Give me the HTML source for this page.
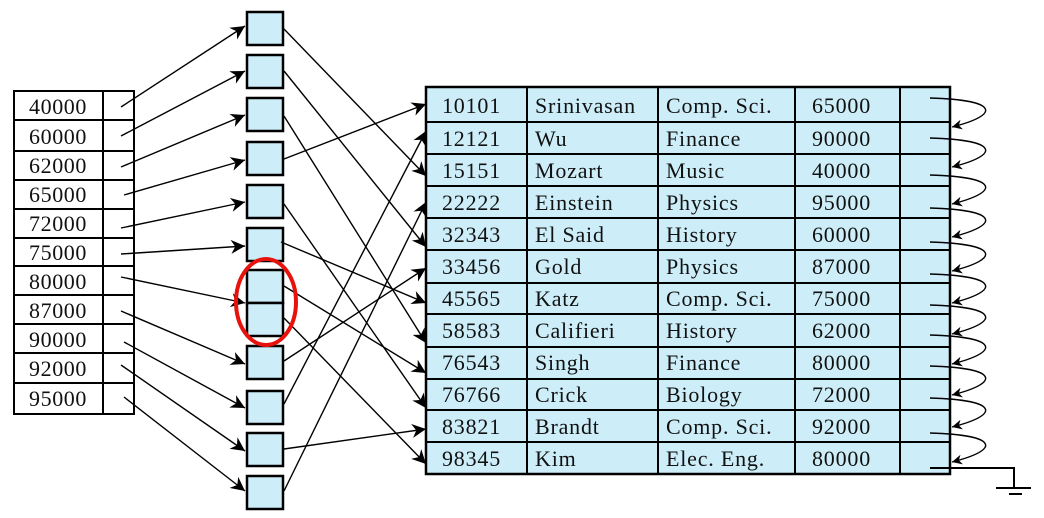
<!DOCTYPE html>
<html><head><meta charset="utf-8"><style>
html,body{margin:0;padding:0;background:#fff;}
svg{display:block;}
text{font-family:"Liberation Serif",serif;fill:#111;}
</style></head><body>
<svg width="1044" height="518" viewBox="0 0 1044 518" xmlns="http://www.w3.org/2000/svg">
<defs>
<marker id="a" viewBox="0 0 10 10" refX="10" refY="5" markerWidth="10" markerHeight="10" markerUnits="userSpaceOnUse" orient="auto">
<path d="M0,0 L10,5 L0,10 L3,5 z" fill="#000"/>
</marker>
<marker id="b" viewBox="0 0 10 10" refX="10" refY="5" markerWidth="14" markerHeight="14" markerUnits="userSpaceOnUse" orient="auto">
<path d="M0,0 L10,5 L0,10 L3,5 z" fill="#000"/>
</marker>
</defs>

<g stroke="#000" stroke-width="2" fill="#fff">
<rect x="14" y="91" width="120" height="323"/>
<line x1="103" y1="91" x2="103" y2="414"/>
<line x1="14" y1="120" x2="134" y2="120"/>
<line x1="14" y1="151" x2="134" y2="151"/>
<line x1="14" y1="180" x2="134" y2="180"/>
<line x1="14" y1="209" x2="134" y2="209"/>
<line x1="14" y1="238" x2="134" y2="238"/>
<line x1="14" y1="266" x2="134" y2="266"/>
<line x1="14" y1="295" x2="134" y2="295"/>
<line x1="14" y1="324" x2="134" y2="324"/>
<line x1="14" y1="353" x2="134" y2="353"/>
<line x1="14" y1="383" x2="134" y2="383"/>
</g>
<g font-size="22" letter-spacing="0.6">
<text x="29" y="114">40000</text>
<text x="29" y="144">60000</text>
<text x="29" y="173">62000</text>
<text x="29" y="202">65000</text>
<text x="29" y="231">72000</text>
<text x="29" y="260">75000</text>
<text x="29" y="289">80000</text>
<text x="29" y="318">87000</text>
<text x="29" y="347">90000</text>
<text x="29" y="376">92000</text>
<text x="29" y="406">95000</text>
</g>

<g stroke="#000" stroke-width="2.5" fill="#cdeef9">
<rect x="247" y="12" width="36" height="33"/>
<rect x="247" y="55" width="36" height="33"/>
<rect x="247" y="98" width="36" height="33"/>
<rect x="247" y="142" width="36" height="33"/>
<rect x="247" y="185" width="36" height="33"/>
<rect x="247" y="228" width="36" height="33"/>
<rect x="247" y="270" width="36" height="33"/>
<rect x="247" y="303" width="36" height="33"/>
<rect x="247" y="346" width="36" height="33"/>
<rect x="247" y="391" width="36" height="33"/>
<rect x="247" y="433" width="36" height="33"/>
<rect x="247" y="476" width="36" height="33"/>
</g>

<g stroke="#000" stroke-width="1.4" fill="none" marker-end="url(#b)">
<line x1="121" y1="107" x2="245" y2="26"/>
<line x1="121" y1="136" x2="245" y2="71"/>
<line x1="121" y1="167" x2="245" y2="115"/>
<line x1="124" y1="195" x2="245" y2="160"/>
<line x1="121" y1="228" x2="245" y2="202"/>
<line x1="121" y1="254" x2="245" y2="246"/>
<line x1="121" y1="277" x2="245" y2="303"/>
<line x1="121" y1="311" x2="245" y2="364"/>
<line x1="124" y1="342" x2="245" y2="408"/>
<line x1="121" y1="365" x2="245" y2="451"/>
<line x1="124" y1="397" x2="245" y2="491"/>
</g>

<rect x="426" y="87" width="524" height="387" fill="#cdeef9" stroke="#000" stroke-width="2.5"/>
<g stroke="#000" stroke-width="2">
<line x1="527" y1="87" x2="527" y2="474"/>
<line x1="658" y1="87" x2="658" y2="474"/>
<line x1="795" y1="87" x2="795" y2="474"/>
<line x1="900" y1="87" x2="900" y2="474"/>
<line x1="426" y1="122" x2="950" y2="122"/>
<line x1="426" y1="154" x2="950" y2="154"/>
<line x1="426" y1="186" x2="950" y2="186"/>
<line x1="426" y1="218" x2="950" y2="218"/>
<line x1="426" y1="250" x2="950" y2="250"/>
<line x1="426" y1="283" x2="950" y2="283"/>
<line x1="426" y1="314" x2="950" y2="314"/>
<line x1="426" y1="347" x2="950" y2="347"/>
<line x1="426" y1="379" x2="950" y2="379"/>
<line x1="426" y1="410" x2="950" y2="410"/>
<line x1="426" y1="442" x2="950" y2="442"/>
</g>
<g font-size="22" letter-spacing="0.8">
<text x="442" y="113">10101</text><text x="535" y="113">Srinivasan</text><text x="666" y="113">Comp. Sci.</text><text x="812" y="113">65000</text>
<text x="442" y="146">12121</text><text x="535" y="146">Wu</text><text x="666" y="146">Finance</text><text x="812" y="146">90000</text>
<text x="442" y="178">15151</text><text x="535" y="178">Mozart</text><text x="666" y="178">Music</text><text x="812" y="178">40000</text>
<text x="442" y="210">22222</text><text x="535" y="210">Einstein</text><text x="666" y="210">Physics</text><text x="812" y="210">95000</text>
<text x="442" y="242">32343</text><text x="535" y="242">El Said</text><text x="666" y="242">History</text><text x="812" y="242">60000</text>
<text x="442" y="274">33456</text><text x="535" y="274">Gold</text><text x="666" y="274">Physics</text><text x="812" y="274">87000</text>
<text x="442" y="306">45565</text><text x="535" y="306">Katz</text><text x="666" y="306">Comp. Sci.</text><text x="812" y="306">75000</text>
<text x="442" y="338">58583</text><text x="535" y="338">Califieri</text><text x="666" y="338">History</text><text x="812" y="338">62000</text>
<text x="442" y="370">76543</text><text x="535" y="370">Singh</text><text x="666" y="370">Finance</text><text x="812" y="370">80000</text>
<text x="442" y="402">76766</text><text x="535" y="402">Crick</text><text x="666" y="402">Biology</text><text x="812" y="402">72000</text>
<text x="442" y="434">83821</text><text x="535" y="434">Brandt</text><text x="666" y="434">Comp. Sci.</text><text x="812" y="434">92000</text>
<text x="442" y="466">98345</text><text x="535" y="466">Kim</text><text x="666" y="466">Elec. Eng.</text><text x="812" y="466">80000</text>
</g>

<g stroke="#000" stroke-width="1.4" fill="none" marker-end="url(#b)">
<line x1="284" y1="29" x2="426" y2="176"/>
<line x1="284" y1="71" x2="426" y2="247"/>
<line x1="284" y1="116" x2="426" y2="343"/>
<line x1="284" y1="159" x2="426" y2="104"/>
<line x1="284" y1="204" x2="426" y2="408"/>
<line x1="281" y1="242" x2="426" y2="303"/>
<line x1="284" y1="286" x2="426" y2="373"/>
<line x1="284" y1="318" x2="426" y2="464"/>
<line x1="284" y1="361" x2="426" y2="268"/>
<line x1="284" y1="404" x2="426" y2="131"/>
<line x1="284" y1="449" x2="426" y2="429"/>
<line x1="284" y1="491" x2="426" y2="202"/>
</g>

<g stroke="#000" stroke-width="1.4" fill="none" marker-end="url(#a)">
<path d="M930,98 C1000,100 1000,115 952,127"/>
<path d="M930,138 C1000,140 1000,155 952,167"/>
<path d="M930,175 C1000,177 1000,192 952,204"/>
<path d="M930,208 C1000,210 1000,225 952,237"/>
<path d="M930,242 C1000,244 1000,259 952,271"/>
<path d="M930,274 C1000,276 1000,291 952,303"/>
<path d="M930,305 C1000,307 1000,322 952,334"/>
<path d="M930,335 C1000,337 1000,352 952,364"/>
<path d="M930,366 C1000,368 1000,383 952,395"/>
<path d="M930,398 C1000,400 1000,415 952,427"/>
<path d="M930,433 C1000,435 1000,450 952,462"/>
</g>
<g stroke="#000" stroke-width="2" fill="none">
<polyline points="930,468 1014,468 1014,488"/>
<line x1="996" y1="488" x2="1031" y2="488"/>
<line x1="1009" y1="494" x2="1022" y2="494"/>
</g>

<ellipse cx="266" cy="302" rx="30" ry="43" fill="none" stroke="#e8120c" stroke-width="4"/>
</svg>
</body></html>
